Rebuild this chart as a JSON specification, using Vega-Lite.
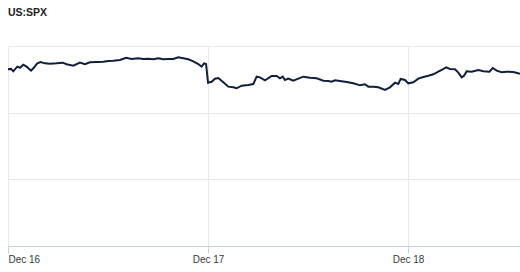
{
  "$schema": "https://vega.github.io/schema/vega-lite/v6.json",
  "width": 512,
  "height": 200,
  "autosize": {"type": "none"},
  "padding": {"left": 8, "top": 46, "right": 0, "bottom": 26},
  "background": "white",
  "title": {"text": "US:SPX", "anchor": "start", "frame": "group", "fontSize": 10.5, "font": "Liberation Sans", "fontWeight": "bold", "color": "#222222", "offset": 28},
  "config": {"view": {"stroke": null}},
  "data": {"values": [
    {"t": "2024-12-16T00:00:00Z", "v": 6082.5},
    {"t": "2024-12-16T00:22:00Z", "v": 6082.8},
    {"t": "2024-12-16T00:38:00Z", "v": 6081.0},
    {"t": "2024-12-16T01:07:00Z", "v": 6084.5},
    {"t": "2024-12-16T01:26:00Z", "v": 6083.7},
    {"t": "2024-12-16T01:50:00Z", "v": 6086.0},
    {"t": "2024-12-16T02:14:00Z", "v": 6084.5},
    {"t": "2024-12-16T02:46:00Z", "v": 6081.5},
    {"t": "2024-12-16T03:02:00Z", "v": 6083.3},
    {"t": "2024-12-16T03:31:00Z", "v": 6087.0},
    {"t": "2024-12-16T03:55:00Z", "v": 6088.0},
    {"t": "2024-12-16T04:26:00Z", "v": 6087.0},
    {"t": "2024-12-16T05:02:00Z", "v": 6086.7},
    {"t": "2024-12-16T05:50:00Z", "v": 6087.0},
    {"t": "2024-12-16T06:34:00Z", "v": 6087.5},
    {"t": "2024-12-16T07:02:00Z", "v": 6086.3},
    {"t": "2024-12-16T07:50:00Z", "v": 6085.2},
    {"t": "2024-12-16T08:38:00Z", "v": 6087.5},
    {"t": "2024-12-16T09:14:00Z", "v": 6086.3},
    {"t": "2024-12-16T09:50:00Z", "v": 6087.8},
    {"t": "2024-12-16T10:38:00Z", "v": 6088.0},
    {"t": "2024-12-16T11:26:00Z", "v": 6088.2},
    {"t": "2024-12-16T12:02:00Z", "v": 6088.8},
    {"t": "2024-12-16T12:38:00Z", "v": 6089.0},
    {"t": "2024-12-16T13:26:00Z", "v": 6089.5},
    {"t": "2024-12-16T14:10:00Z", "v": 6091.2},
    {"t": "2024-12-16T14:50:00Z", "v": 6090.3},
    {"t": "2024-12-16T15:38:00Z", "v": 6090.8},
    {"t": "2024-12-16T16:14:00Z", "v": 6090.3},
    {"t": "2024-12-16T16:50:00Z", "v": 6090.5},
    {"t": "2024-12-16T17:26:00Z", "v": 6090.0},
    {"t": "2024-12-16T18:02:00Z", "v": 6090.8},
    {"t": "2024-12-16T18:38:00Z", "v": 6090.0},
    {"t": "2024-12-16T19:14:00Z", "v": 6090.3},
    {"t": "2024-12-16T19:50:00Z", "v": 6090.3},
    {"t": "2024-12-16T20:26:00Z", "v": 6091.5},
    {"t": "2024-12-16T21:02:00Z", "v": 6090.8},
    {"t": "2024-12-16T21:38:00Z", "v": 6090.0},
    {"t": "2024-12-16T22:14:00Z", "v": 6088.5},
    {"t": "2024-12-16T22:50:00Z", "v": 6086.5},
    {"t": "2024-12-16T23:14:00Z", "v": 6084.5},
    {"t": "2024-12-16T23:31:00Z", "v": 6087.0},
    {"t": "2024-12-16T23:46:00Z", "v": 6086.5},
    {"t": "2024-12-17T00:00:00Z", "v": 6072.5},
    {"t": "2024-12-17T00:26:00Z", "v": 6073.2},
    {"t": "2024-12-17T00:50:00Z", "v": 6075.5},
    {"t": "2024-12-17T01:14:00Z", "v": 6076.0},
    {"t": "2024-12-17T01:46:00Z", "v": 6073.2},
    {"t": "2024-12-17T02:26:00Z", "v": 6069.5},
    {"t": "2024-12-17T03:02:00Z", "v": 6069.0},
    {"t": "2024-12-17T03:26:00Z", "v": 6068.3},
    {"t": "2024-12-17T04:02:00Z", "v": 6070.2},
    {"t": "2024-12-17T04:50:00Z", "v": 6070.8},
    {"t": "2024-12-17T05:26:00Z", "v": 6071.5},
    {"t": "2024-12-17T05:50:00Z", "v": 6077.0},
    {"t": "2024-12-17T06:14:00Z", "v": 6076.5},
    {"t": "2024-12-17T06:50:00Z", "v": 6074.3},
    {"t": "2024-12-17T07:38:00Z", "v": 6077.5},
    {"t": "2024-12-17T08:14:00Z", "v": 6077.5},
    {"t": "2024-12-17T08:38:00Z", "v": 6075.8},
    {"t": "2024-12-17T08:58:00Z", "v": 6077.0},
    {"t": "2024-12-17T09:14:00Z", "v": 6074.5},
    {"t": "2024-12-17T09:38:00Z", "v": 6075.5},
    {"t": "2024-12-17T10:14:00Z", "v": 6074.0},
    {"t": "2024-12-17T10:50:00Z", "v": 6075.5},
    {"t": "2024-12-17T11:26:00Z", "v": 6077.0},
    {"t": "2024-12-17T12:14:00Z", "v": 6076.2},
    {"t": "2024-12-17T13:02:00Z", "v": 6075.8},
    {"t": "2024-12-17T13:50:00Z", "v": 6074.0},
    {"t": "2024-12-17T14:26:00Z", "v": 6073.8},
    {"t": "2024-12-17T14:50:00Z", "v": 6073.2},
    {"t": "2024-12-17T15:14:00Z", "v": 6074.3},
    {"t": "2024-12-17T15:50:00Z", "v": 6073.8},
    {"t": "2024-12-17T16:38:00Z", "v": 6073.0},
    {"t": "2024-12-17T17:26:00Z", "v": 6072.0},
    {"t": "2024-12-17T18:14:00Z", "v": 6070.5},
    {"t": "2024-12-17T18:50:00Z", "v": 6071.3},
    {"t": "2024-12-17T19:14:00Z", "v": 6069.5},
    {"t": "2024-12-17T19:50:00Z", "v": 6069.5},
    {"t": "2024-12-17T20:26:00Z", "v": 6069.0},
    {"t": "2024-12-17T21:14:00Z", "v": 6067.0},
    {"t": "2024-12-17T21:50:00Z", "v": 6069.0},
    {"t": "2024-12-17T22:26:00Z", "v": 6072.5},
    {"t": "2024-12-17T22:50:00Z", "v": 6071.5},
    {"t": "2024-12-17T23:07:00Z", "v": 6075.3},
    {"t": "2024-12-17T23:38:00Z", "v": 6074.5},
    {"t": "2024-12-18T00:02:00Z", "v": 6072.0},
    {"t": "2024-12-18T00:38:00Z", "v": 6072.8},
    {"t": "2024-12-18T01:14:00Z", "v": 6075.5},
    {"t": "2024-12-18T01:50:00Z", "v": 6076.8},
    {"t": "2024-12-18T02:26:00Z", "v": 6077.7},
    {"t": "2024-12-18T03:02:00Z", "v": 6078.8},
    {"t": "2024-12-18T03:38:00Z", "v": 6080.7},
    {"t": "2024-12-18T04:02:00Z", "v": 6082.0},
    {"t": "2024-12-18T04:34:00Z", "v": 6084.0},
    {"t": "2024-12-18T05:02:00Z", "v": 6082.8},
    {"t": "2024-12-18T05:38:00Z", "v": 6082.5},
    {"t": "2024-12-18T06:02:00Z", "v": 6080.0},
    {"t": "2024-12-18T06:26:00Z", "v": 6076.5},
    {"t": "2024-12-18T06:43:00Z", "v": 6077.7},
    {"t": "2024-12-18T07:02:00Z", "v": 6081.0},
    {"t": "2024-12-18T07:38:00Z", "v": 6080.7},
    {"t": "2024-12-18T08:26:00Z", "v": 6082.0},
    {"t": "2024-12-18T09:02:00Z", "v": 6081.0},
    {"t": "2024-12-18T09:46:00Z", "v": 6080.7},
    {"t": "2024-12-18T10:10:00Z", "v": 6083.5},
    {"t": "2024-12-18T10:38:00Z", "v": 6081.5},
    {"t": "2024-12-18T11:14:00Z", "v": 6080.3},
    {"t": "2024-12-18T11:50:00Z", "v": 6080.7},
    {"t": "2024-12-18T12:38:00Z", "v": 6080.5},
    {"t": "2024-12-18T13:26:00Z", "v": 6079.2}
  ]},
  "mark": {"type": "line", "color": "#0f1f3d", "strokeWidth": 2, "interpolate": "linear"},
  "encoding": {
    "x": {
      "field": "t", "type": "temporal",
      "scale": {"type": "utc", "domain": [{"year": 2024, "month": 12, "date": 16, "utc": true}, {"year": 2024, "month": 12, "date": 18, "hours": 13, "minutes": 26, "utc": true}], "nice": false},
      "axis": {
        "title": null,
        "labelExpr": "utcFormat(datum.value, '%b %d')",
        "tickCount": {"interval": "day", "step": 1},
        "grid": true, "gridColor": "#e6e9ee", "gridWidth": 1,
        "domainColor": "#c3d3e4", "tickColor": "#c3d3e4", "tickSize": 7,
        "labelFont": "Liberation Sans", "labelFontSize": 10, "labelColor": "#3a3a3a",
        "labelPadding": 1, "labelFlush": true
      }
    },
    "y": {
      "field": "v", "type": "quantitative",
      "scale": {"domain": [5950, 6100], "nice": false, "zero": false},
      "axis": {
        "title": null, "labels": false, "ticks": false, "domain": false,
        "values": [6000, 6050, 6100], "grid": true, "gridColor": "#e6e9ee"
      }
    }
  }
}
